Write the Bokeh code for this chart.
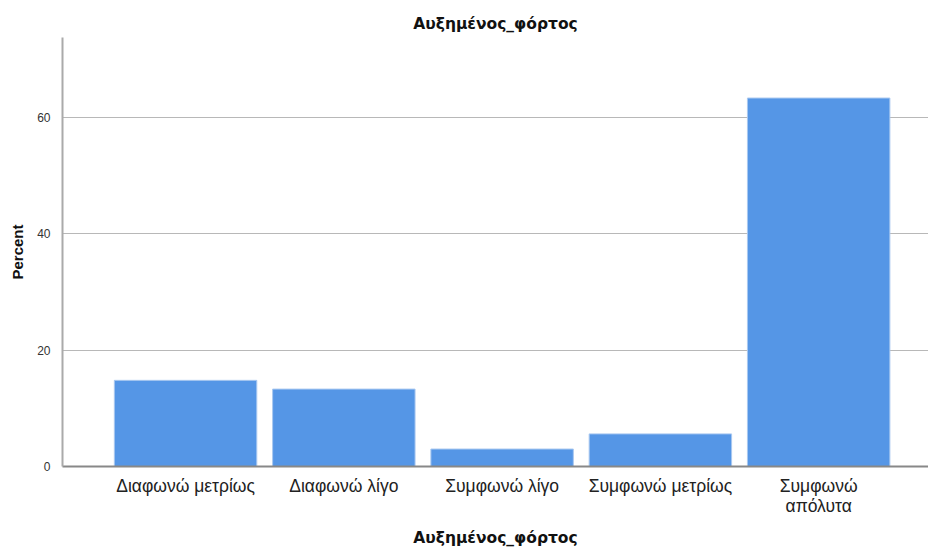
from bokeh.plotting import figure
from bokeh.models import Range1d, FixedTicker
from bokeh.embed import file_html
from bokeh.resources import INLINE

categories = ["Διαφωνώ μετρίως", "Διαφωνώ λίγο", "Συμφωνώ λίγο", "Συμφωνώ μετρίως", "Συμφωνώ\nαπόλυτα"]
percent = [14.8, 13.3, 3.0, 5.6, 63.3]
y_ticks = [0, 20, 40, 60]

xs = list(range(len(categories)))

p = figure(frame_width=866, frame_height=429, output_backend="svg", toolbar_location=None,
           x_range=Range1d(-0.7775, 4.694), y_range=Range1d(0, 73.7),
           title="Αυξημένος_φόρτος")
p.min_border_left = 62
p.min_border_right = 0
p.min_border_top = 37
p.min_border_bottom = 0
p.outline_line_color = None
p.background_fill_color = "white"
p.border_fill_color = "white"

p.vbar(x=xs, top=percent, width=0.9, bottom=0, fill_color="#5596e6",
       line_color="#a9c8f0", line_width=1)

p.title.align = "center"
p.title.text_font = "DejaVu Sans"
p.title.text_font_size = "15.5px"
p.title.text_font_style = "bold"
p.title.text_color = "#111111"
p.title.offset = 0
p.title.standoff = 9

p.xaxis.ticker = FixedTicker(ticks=xs)
p.xaxis.major_label_overrides = {i: c for i, c in enumerate(categories)}
p.xaxis.major_tick_line_color = None
p.xaxis.minor_tick_line_color = None
p.xaxis.major_label_text_font = "Liberation Sans"
p.xaxis.major_label_text_font_size = "17.5px"
p.xaxis.major_label_text_line_height = 1.0
p.xaxis.major_label_text_color = "#222222"
p.xaxis.major_label_standoff = 3
p.xaxis.axis_line_color = "#888888"
p.xaxis.axis_line_width = 2
p.xaxis.axis_label = "Αυξημένος_φόρτος"
p.xaxis.axis_label_text_font = "DejaVu Sans"
p.xaxis.axis_label_text_font_size = "15.5px"
p.xaxis.axis_label_text_font_style = "bold"
p.xaxis.axis_label_text_color = "#111111"
p.xaxis.axis_label_standoff = 10

p.yaxis.ticker = FixedTicker(ticks=y_ticks)
p.yaxis.major_tick_line_color = None
p.yaxis.minor_tick_line_color = None
p.yaxis.major_label_text_font = "Liberation Sans"
p.yaxis.major_label_text_font_size = "12px"
p.yaxis.major_label_text_color = "#333333"
p.yaxis.major_label_standoff = 6
p.yaxis.axis_line_color = "#aaaaaa"
p.yaxis.axis_line_width = 2
p.yaxis.axis_label = "Percent"
p.yaxis.axis_label_text_font = "Liberation Sans"
p.yaxis.axis_label_text_font_size = "15px"
p.yaxis.axis_label_text_font_style = "bold"
p.yaxis.axis_label_text_color = "#111111"
p.yaxis.axis_label_standoff = 8

p.xgrid.grid_line_color = None
p.ygrid.ticker = FixedTicker(ticks=y_ticks)
p.ygrid.grid_line_color = "#b8b8b8"
p.ygrid.grid_line_width = 1

open("out.html", "w").write(file_html(p, INLINE))
